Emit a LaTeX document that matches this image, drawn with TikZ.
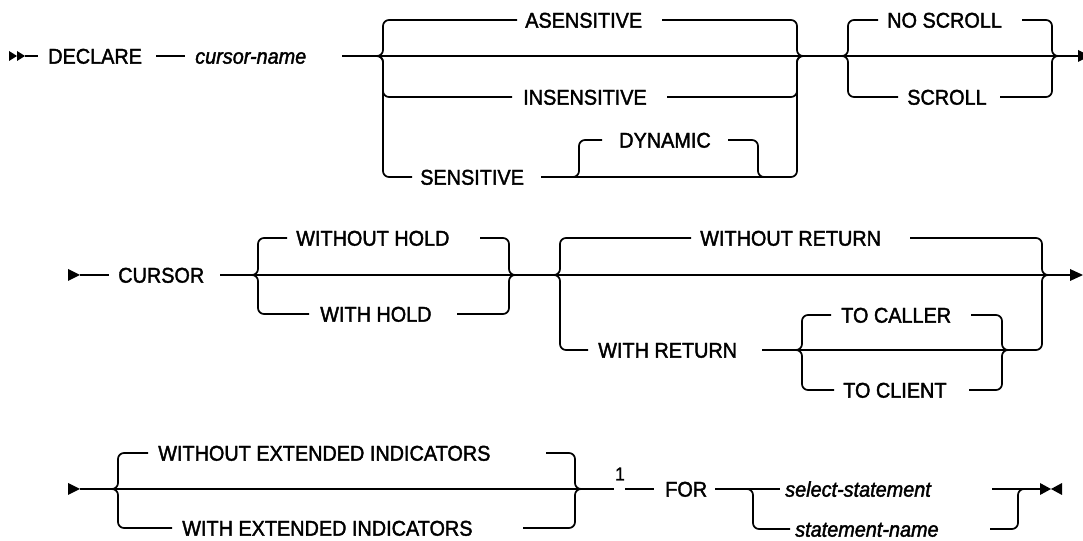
\documentclass[tikz,border=0pt]{standalone}
\usepackage{fontspec}
\setmainfont{Liberation Sans}[FakeStretch=0.93, FakeBold=1.8]
\tikzset{
  kw/.style={anchor=west, inner sep=0pt, text height=11.5pt, text depth=0pt, font=\fontsize{16}{19}\selectfont},
  var/.style={kw, font=\fontsize{16}{19}\selectfont\itshape},
  note/.style={inner sep=0pt, font=\fontsize{14}{16}\selectfont},
  rail/.style={line width=1.3pt, line cap=butt},
  tipfill/.style={fill=black, draw=none},
}
% left join, branch up: tip x, main y, branch y, end x
\newcommand\LUp[4]{\draw[rail] (#1,#2) to[out=0,in=270] (#1+6,#2-6) -- (#1+6,#3+6) to[out=90,in=180] (#1+12,#3) -- (#4,#3);}
\newcommand\LDn[4]{\draw[rail] (#1,#2) to[out=0,in=90] (#1+6,#2+6) -- (#1+6,#3-6) to[out=270,in=180] (#1+12,#3) -- (#4,#3);}
% right join: start x, branch y, tip x, main y
\newcommand\RUp[4]{\draw[rail] (#1,#2) -- (#3-12,#2) to[out=0,in=90] (#3-6,#2+6) -- (#3-6,#4-6) to[out=270,in=180] (#3,#4);}
\newcommand\RDn[4]{\draw[rail] (#1,#2) -- (#3-12,#2) to[out=0,in=270] (#3-6,#2-6) -- (#3-6,#4+6) to[out=90,in=180] (#3,#4);}
\begin{document}
\begin{tikzpicture}[x=0.75pt,y=-0.75pt]
\useasboundingbox (0,0) rectangle (1083,541);
\clip (0,0) rectangle (1083,541);

% ---------------- Row 1 ----------------
\fill[tipfill] (9,51) -- (17,56) -- (9,61) -- cycle;
\fill[tipfill] (17,51) -- (25,56) -- (17,61) -- cycle;
\draw[rail] (25,56) -- (38,56);
\node[kw] (declare) at (48,56) {DECLARE};
\draw[rail] (156,56) -- (185,56);
\node[var] (cname) at (195,56) {cursor-name};
\draw[rail] (342,56) -- (1078,56);
\fill[tipfill] (1078,50) -- (1090,56) -- (1078,62) -- cycle;

\LUp{377}{56}{20}{517}
\node[kw] (asens) at (525,20) {ASENSITIVE};
\RUp{662}{20}{803}{56}
\LDn{377}{56}{97}{512}
\node[kw] (insens) at (523,97) {INSENSITIVE};
\RDn{667}{97}{803}{56}
\LDn{377}{56}{177}{412}
\node[kw] (sens) at (420,177) {SENSITIVE};
\RDn{541}{177}{803}{56}
\LUp{573}{177}{140}{602}
\node[kw] (dyn) at (619,140) {DYNAMIC};
\RUp{728}{140}{764}{177}

\LUp{842}{56}{20}{878}
\node[kw] (noscroll) at (887,20) {NO SCROLL};
\RUp{1022}{20}{1058}{56}
\LDn{842}{56}{97}{898}
\node[kw] (scroll) at (907,97) {SCROLL};
\RDn{1000}{97}{1058}{56}

% ---------------- Row 2 ----------------
\fill[tipfill] (68,269) -- (80,275) -- (68,281) -- cycle;
\draw[rail] (80,275) -- (109,275);
\node[kw] (cursor) at (118,275) {CURSOR};
\draw[rail] (220,275) -- (1070,275);
\fill[tipfill] (1070,269) -- (1083,275) -- (1070,281) -- cycle;

\LUp{252}{275}{238}{287}
\node[kw] (wohold) at (296,238) {WITHOUT HOLD};
\RUp{480}{238}{515}{275}
\LDn{252}{275}{314}{309}
\node[kw] (whold) at (320,314) {WITH HOLD};
\RDn{457}{314}{515}{275}

\LUp{554}{275}{238}{691}
\node[kw] (woret) at (700,238) {WITHOUT RETURN};
\RUp{910}{238}{1048}{275}
\LDn{554}{275}{350}{588}
\node[kw] (wret) at (598,350) {WITH RETURN};
\RDn{762}{350}{1048}{275}

\LUp{796}{350}{315}{831}
\node[kw] (tocaller) at (841,315) {TO CALLER};
\RUp{971}{315}{1008}{350}
\LDn{796}{350}{390}{834}
\node[kw] (toclient) at (843,390) {TO CLIENT};
\RDn{969}{390}{1008}{350}

% ---------------- Row 3 ----------------
\fill[tipfill] (68,483) -- (80,489) -- (68,495) -- cycle;
\draw[rail] (80,489) -- (614,489);

\LUp{112}{489}{453}{148}
\node[kw] (woext) at (158,453) {WITHOUT EXTENDED INDICATORS};
\RUp{546}{453}{581}{489}
\LDn{112}{489}{528}{172}
\node[kw] (wext) at (182,528) {WITH EXTENDED INDICATORS};
\RDn{523}{528}{581}{489}

\node[note] (fn) at (620,474) {1};
\draw[rail] (625,489) -- (654,489);
\node[kw] (for) at (665,489) {FOR};
\draw[rail] (715,489) -- (780,489);
\node[var] (selst) at (785,489) {select-statement};
\draw[rail] (992,489) -- (1040,489);
\LDn{747}{489}{529}{790}
\node[var] (stname) at (795,529) {statement-name};
\RDn{990}{529}{1024}{489}

\fill[tipfill] (1040,483) -- (1051,489) -- (1040,495) -- cycle;
\fill[tipfill] (1062,483) -- (1051,489) -- (1062,495) -- cycle;
\end{tikzpicture}
\end{document}
